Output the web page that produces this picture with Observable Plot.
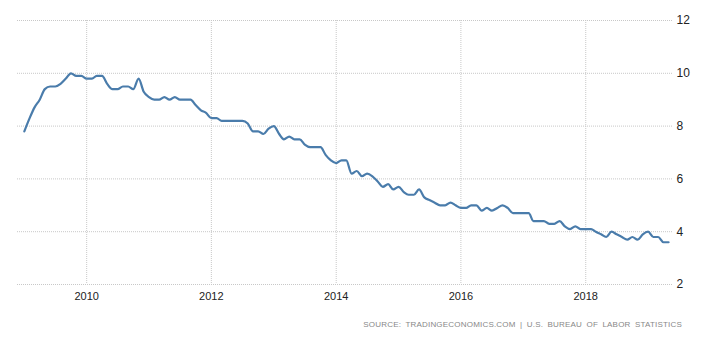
<!DOCTYPE html>
<html>
<head>
<meta charset="utf-8">
<script src="https://cdn.jsdelivr.net/npm/d3@7"></script>
<script src="https://cdn.jsdelivr.net/npm/@observablehq/plot@0.6"></script>
<style>
  html, body { margin: 0; padding: 0; background: #fff; }
  #chart { width: 715px; }
  #caption {
    width: 715px; box-sizing: border-box; text-align: right;
    padding-right: 33px; margin-top: 8px;
    font-family: "Liberation Sans", Arial, sans-serif; font-size: 8px;
    letter-spacing: 0.2px; word-spacing: 2px; color: #888;
  }
</style>
</head>
<body>
<div id="chart"></div>
<div id="caption">SOURCE: TRADINGECONOMICS.COM | U.S. BUREAU OF LABOR STATISTICS</div>
<script>
const startYear = 2009;
const rates = [
  7.8, 8.3, 8.7, 9.0, 9.4, 9.5, 9.5, 9.6, 9.8, 10.0, 9.9, 9.9,
  9.8, 9.8, 9.9, 9.9, 9.6, 9.4, 9.4, 9.5, 9.5, 9.4, 9.8, 9.3,
  9.1, 9.0, 9.0, 9.1, 9.0, 9.1, 9.0, 9.0, 9.0, 8.8, 8.6, 8.5,
  8.3, 8.3, 8.2, 8.2, 8.2, 8.2, 8.2, 8.1, 7.8, 7.8, 7.7, 7.9,
  8.0, 7.7, 7.5, 7.6, 7.5, 7.5, 7.3, 7.2, 7.2, 7.2, 6.9, 6.7,
  6.6, 6.7, 6.7, 6.2, 6.3, 6.1, 6.2, 6.1, 5.9, 5.7, 5.8, 5.6,
  5.7, 5.5, 5.4, 5.4, 5.6, 5.3, 5.2, 5.1, 5.0, 5.0, 5.1, 5.0,
  4.9, 4.9, 5.0, 5.0, 4.8, 4.9, 4.8, 4.9, 5.0, 4.9, 4.7, 4.7,
  4.7, 4.7, 4.4, 4.4, 4.4, 4.3, 4.3, 4.4, 4.2, 4.1, 4.2, 4.1,
  4.1, 4.1, 4.0, 3.9, 3.8, 4.0, 3.9, 3.8, 3.7, 3.8, 3.7, 3.9,
  4.0, 3.8, 3.8, 3.6, 3.6
];
const xTickYears = [2010, 2012, 2014, 2016, 2018];
const yTicks = [2, 4, 6, 8, 10, 12];

const data = rates.map((v, i) => ({
  date: new Date(startYear + Math.floor(i / 12), i % 12, 1),
  value: v
}));
const xTicks = xTickYears.map(y => new Date(y, 0, 1));

const chart = Plot.plot({
  width: 715,
  height: 312,
  marginLeft: 17,
  marginRight: 43,
  marginTop: 20,
  marginBottom: 28,
  style: { fontFamily: "'Liberation Sans', Arial, sans-serif", fontSize: "12px", color: "#222", background: "#fff" },
  x: { type: "time", domain: [new Date(2008, 10, 22), new Date(2019, 4, 24)], ticks: xTicks, tickFormat: d3.timeFormat("%Y"), label: null },
  y: { domain: [2, 12], ticks: yTicks, label: null },
  marks: [
    Plot.gridX(xTicks, { stroke: "#c8c8c8", strokeOpacity: 1, strokeDasharray: "1,1" }),
    Plot.gridY(yTicks, { stroke: "#c8c8c8", strokeOpacity: 1, strokeDasharray: "1,1" }),
    Plot.axisX(xTicks, { tickSize: 0, tickPadding: 8, tickFormat: d3.timeFormat("%Y"), fontSize: 11, label: null }),
    Plot.axisY(yTicks, { anchor: "right", tickSize: 0, tickPadding: 4, fontSize: 12, label: null }),
    Plot.line(data, { x: "date", y: "value", stroke: "#4a7cab", strokeWidth: 2.2, curve: "monotone-x" })
  ]
});
document.getElementById("chart").appendChild(chart);
</script>
</body>
</html>
